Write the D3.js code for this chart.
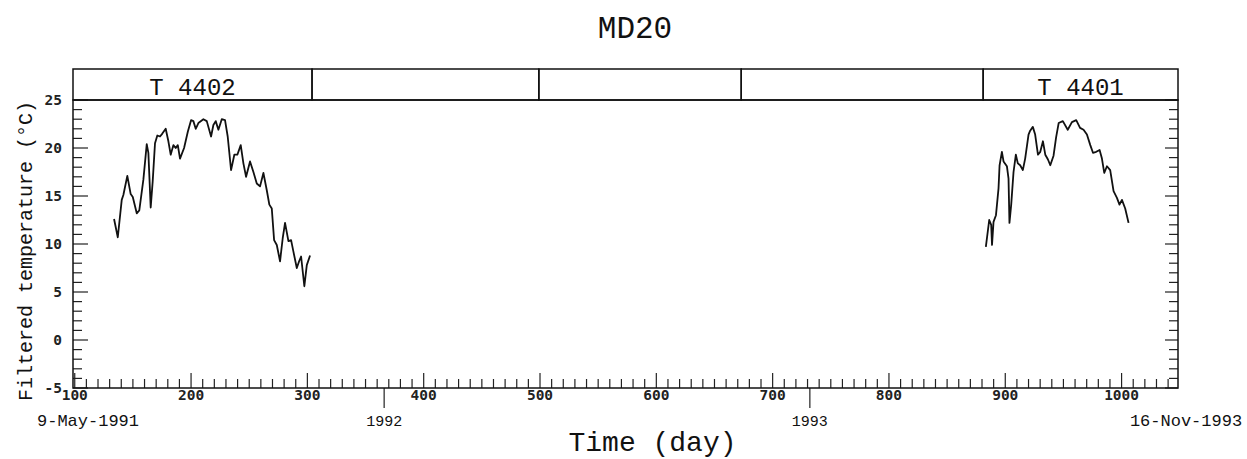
<!DOCTYPE html>
<html>
<head>
<meta charset="utf-8">
<script src="https://cdn.jsdelivr.net/npm/d3@7"></script>
<style>
  body { margin: 0; background: #fff; }
  .mono { font-family: "Liberation Mono", "DejaVu Sans Mono", monospace; fill: #111; }
  .tickNum { font-family: "DejaVu Sans Mono", monospace; font-size: 14.5px; font-weight: bold; fill: #222; }
</style>
</head>
<body>
<div id="chart"></div>
<script>
// MD20 filtered temperature record, two instruments (T 4402 then T 4401)

// instrument T 4402 (first deployment)
var t4402Day = [133.8, 137, 140.4, 141.8, 145.2, 148.1, 149.9, 153.3, 155.5, 159,
  161.9, 163.3, 165.3, 167, 169, 171, 173.3, 175.3, 178.2, 180.5,
  182.5, 184.8, 186.8, 188.6, 190.5, 194, 197.2, 200, 202, 204,
  206.3, 210.6, 213.5, 217.2, 219.2, 221.2, 223.5, 226.4, 229.2, 231.5,
  234.4, 237.2, 239.8, 242.7, 245, 247.3, 250.7, 253.6, 256.5, 259.3,
  262.2, 265.1, 267.3, 269.4, 271.4, 273.7, 276.5, 278.8, 280.8, 283.7,
  286, 288, 290.9, 292.9, 294.6, 297.4, 299.5, 302.3];
var t4402Temp = [12.6, 10.7, 14.6, 15.1, 17.1, 15.2, 14.9, 13.2, 13.5, 16.7,
  20.4, 19.5, 13.8, 16.5, 20.5, 21.3, 21.2, 21.5, 22.0, 20.7,
  19.3, 20.3, 20.0, 20.3, 18.9, 20.0, 21.7, 22.9, 22.8, 22.0,
  22.6, 23.0, 22.8, 21.2, 22.4, 22.8, 21.9, 23.0, 22.9, 21.2,
  17.7, 19.3, 19.3, 20.3, 18.4, 17.0, 18.6, 17.5, 16.3, 16.0,
  17.4, 15.6, 14.1, 13.7, 10.4, 9.9, 8.2, 10.6, 12.2, 10.3,
  10.4, 9.2, 7.5, 8.2, 8.7, 5.6, 7.8, 8.8];

// instrument T 4401 (last deployment)
var t4401Day = [883.3, 886.2, 887.9, 888.6, 889.9, 892, 894.2, 895.1, 897.1, 898.5,
  901.4, 902.8, 903.6, 905.1, 907.1, 909.1, 910.8, 912.8, 915.1, 917.1,
  920, 921.4, 923.7, 925.7, 928.1, 930.1, 932.4, 934.4, 936.7, 938.7,
  941.5, 943.7, 945.9, 949.5, 953.7, 957.3, 961, 964.3, 967.3, 970.2,
  973.1, 975.4, 978.2, 981.1, 983.1, 985.1, 987.4, 990.2, 993.1, 996,
  998.2, 1000.3, 1003.1, 1006];
var t4401Temp = [9.7, 12.5, 12.0, 9.9, 12.3, 13.0, 15.8, 18.2, 19.6, 18.6,
  18.1, 16.8, 12.2, 14.1, 17.5, 19.3, 18.4, 18.2, 17.7, 18.9,
  21.4, 21.8, 22.2, 21.4, 19.3, 19.6, 20.7, 19.3, 18.8, 18.2,
  19.2, 21.1, 22.6, 22.8, 21.9, 22.7, 22.9, 22.1, 21.9, 21.4,
  20.3, 19.5, 19.6, 19.8, 18.9, 17.4, 18.1, 17.7, 15.5, 14.8,
  14.1, 14.6, 13.7, 12.2];

// deployment bar along the top
var segStart = [98.5, 304, 499, 673, 881];
var segEnd = [304, 499, 673, 881, 1048.5];
var segLabel = ['T 4402', '', '', '', 'T 4401'];

// axis settings
var dayDomain = [98.5, 1048.5];
var tempDomain = [-5, 25];
var dayMajor = [100, 200, 300, 400, 500, 600, 700, 800, 900, 1000];
var tempMajor = [-5, 0, 5, 10, 15, 20, 25];
var yearDay = [366, 732];
var yearLabel = ['1992', '1993'];
var startDate = '9-May-1991';
var endDate = '16-Nov-1993';

// create svg element
var svgWidth = 1247;
var svgHeight = 459;
var margin = { top: 100, right: 69, bottom: 71, left: 73 };
var width = svgWidth - margin.left - margin.right;
var height = svgHeight - margin.top - margin.bottom;

var svg = d3.select('#chart')
  .append('svg')
  .attr('width', svgWidth)
  .attr('height', svgHeight);

var chartGroup = svg.append('g')
  .attr('transform', `translate(${margin.left}, ${margin.top})`);

// scales
var xScale = d3.scaleLinear().domain(dayDomain).range([0, width]);
var yScale = d3.scaleLinear().domain(tempDomain).range([height, 0]);

// minor ticks
var dayMinor = d3.range(100, 1041, 10);
var tempMinor = d3.range(-5, 26, 1);

// bottom ticks point up into the plot
chartGroup.append('g').selectAll('line')
  .data(dayMinor)
  .enter()
  .append('line')
  .attr('x1', d => xScale(d))
  .attr('x2', d => xScale(d))
  .attr('y1', height)
  .attr('y2', d => height - (d % 100 === 0 ? 15 : 9))
  .attr('stroke', '#222')
  .attr('stroke-width', 1.2);

// left and right ticks, both inward
var yTicks = chartGroup.append('g');
yTicks.selectAll('.lt')
  .data(tempMinor)
  .enter()
  .append('line')
  .attr('x1', 0)
  .attr('x2', d => (d % 5 === 0 ? 15 : 9))
  .attr('y1', d => yScale(d))
  .attr('y2', d => yScale(d))
  .attr('stroke', '#222')
  .attr('stroke-width', 1.2);
yTicks.selectAll('.rt')
  .data(tempMinor)
  .enter()
  .append('line')
  .attr('x1', width)
  .attr('x2', d => width - (d % 5 === 0 ? 13 : 9))
  .attr('y1', d => yScale(d))
  .attr('y2', d => yScale(d))
  .attr('stroke', '#222')
  .attr('stroke-width', 1.2);

// year boundary ticks hang below the axis
chartGroup.append('g').selectAll('line')
  .data(yearDay)
  .enter()
  .append('line')
  .attr('x1', d => xScale(d))
  .attr('x2', d => xScale(d))
  .attr('y1', height)
  .attr('y2', height + 20)
  .attr('stroke', '#222')
  .attr('stroke-width', 1.2);

// plot frame
chartGroup.append('rect')
  .attr('x', 0)
  .attr('y', 0)
  .attr('width', width)
  .attr('height', height)
  .attr('fill', 'none')
  .attr('stroke', '#111')
  .attr('stroke-width', 1.5);

// tick labels
chartGroup.append('g').selectAll('text')
  .data(dayMajor)
  .enter()
  .append('text')
  .attr('class', 'tickNum')
  .attr('x', d => xScale(d))
  .attr('y', height + 12)
  .attr('text-anchor', 'middle')
  .text(d => d);

chartGroup.append('g').selectAll('text')
  .data(tempMajor)
  .enter()
  .append('text')
  .attr('class', 'tickNum')
  .attr('x', -11)
  .attr('y', d => yScale(d))
  .attr('dy', '0.35em')
  .attr('text-anchor', 'end')
  .text(d => d);

chartGroup.append('g').selectAll('text')
  .data(yearDay)
  .enter()
  .append('text')
  .attr('class', 'mono')
  .attr('font-size', 15)
  .attr('x', d => xScale(d))
  .attr('y', height + 38)
  .attr('text-anchor', 'middle')
  .text((d, i) => yearLabel[i]);

chartGroup.append('text')
  .attr('class', 'mono')
  .attr('font-size', 17)
  .attr('x', xScale(dayDomain[0]) + 15)
  .attr('y', height + 38)
  .attr('text-anchor', 'middle')
  .text(startDate);

chartGroup.append('text')
  .attr('class', 'mono')
  .attr('font-size', 17)
  .attr('x', xScale(dayDomain[1]) + 8)
  .attr('y', height + 38)
  .attr('text-anchor', 'middle')
  .text(endDate);

// temperature curves
var line = d3.line()
  .x(d => xScale(d[0]))
  .y(d => yScale(d[1]));

[[t4402Day, t4402Temp], [t4401Day, t4401Temp]].forEach(function(s) {
  chartGroup.append('path')
    .datum(d3.zip(s[0], s[1]))
    .attr('d', line)
    .attr('fill', 'none')
    .attr('stroke', '#111')
    .attr('stroke-width', 1.8)
    .attr('stroke-linejoin', 'round');
});

// deployment bar above the plot
var barGroup = chartGroup.append('g')
  .attr('transform', 'translate(0, -31)');

barGroup.selectAll('rect')
  .data(segStart)
  .enter()
  .append('rect')
  .attr('x', d => xScale(d))
  .attr('y', 0)
  .attr('width', (d, i) => xScale(segEnd[i]) - xScale(d))
  .attr('height', 31)
  .attr('fill', 'none')
  .attr('stroke', '#111')
  .attr('stroke-width', 1.5);

barGroup.selectAll('text')
  .data(segStart)
  .enter()
  .append('text')
  .attr('class', 'mono')
  .attr('font-size', 24)
  .attr('x', (d, i) => (xScale(d) + xScale(segEnd[i])) / 2)
  .attr('y', 26)
  .attr('text-anchor', 'middle')
  .text((d, i) => segLabel[i]);

// titles
svg.append('text')
  .attr('class', 'mono')
  .attr('font-size', 31)
  .attr('x', 635)
  .attr('y', 38)
  .attr('text-anchor', 'middle')
  .text('MD20');

svg.append('text')
  .attr('class', 'mono')
  .attr('font-size', 28)
  .attr('x', margin.left + width / 2 + 27)
  .attr('y', 451)
  .attr('text-anchor', 'middle')
  .text('Time (day)');

svg.append('text')
  .attr('class', 'mono')
  .attr('font-size', 20)
  .attr('transform', 'translate(32, 251) rotate(-90)')
  .attr('text-anchor', 'middle')
  .text('Filtered temperature (°C)');
</script>
</body>
</html>
